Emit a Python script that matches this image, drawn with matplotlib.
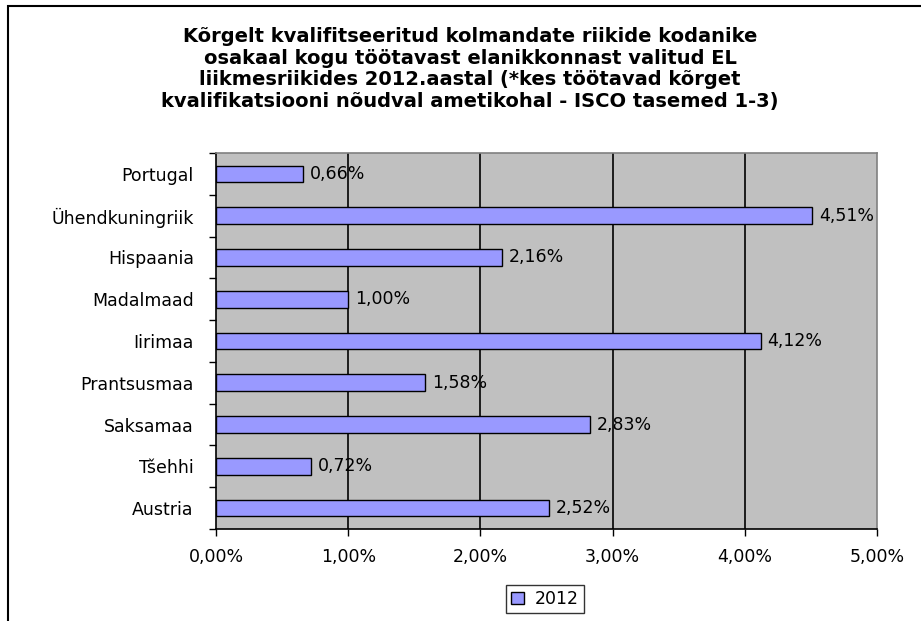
import matplotlib
matplotlib.use("Agg")
import matplotlib.pyplot as plt
from matplotlib.patches import Rectangle

# data (bottom to top, as drawn)
countries = ["Austria", "Tšehhi", "Saksamaa", "Prantsusmaa", "Iirimaa",
             "Madalmaad", "Hispaania", "Ühendkuningriik", "Portugal"]
values = [2.52, 0.72, 2.83, 1.58, 4.12, 1.00, 2.16, 4.51, 0.66]
xticks = [0, 1, 2, 3, 4, 5]
series_name = "2012"
title = ("Kõrgelt kvalifitseeritud kolmandate riikide kodanike\n"
         "osakaal kogu töötavast elanikkonnast valitud EL\n"
         "liikmesriikides 2012.aastal (*kes töötavad kõrget\n"
         "kvalifikatsiooni nõudval ametikohal - ISCO tasemed 1-3)")

plt.rcParams["font.family"] = ["DejaVu Sans"]
fs = 12.5

fig = plt.figure(figsize=(9.21, 6.21), dpi=100)
W, H = 921, 621

# outer chart border (runs off right/bottom edge)
fig.patches.append(Rectangle((8 / W, -0.05), 1.0, 1 - 6 / H + 0.05,
                             transform=fig.transFigure, fill=False,
                             edgecolor="black", linewidth=1.5))

ax = fig.add_axes([216 / W, 1 - 529 / H, (877 - 216) / W, (529 - 153) / H])
ax.set_facecolor("#C0C0C0")

ypos = range(len(countries))
ax.barh(ypos, values, height=0.4, color="#9999FF", edgecolor="black",
        linewidth=1.0, zorder=3, label=series_name)

for y, v in zip(ypos, values):
    ax.annotate(f"{v:.2f}%".replace(".", ","), (v, y), xytext=(5, 0),
                textcoords="offset points", va="center", ha="left",
                fontsize=fs, zorder=4)

ax.set_xlim(0, 5)
ax.set_ylim(-0.5, len(countries) - 0.5)
ax.set_xticks(xticks)
ax.set_xticklabels([f"{t:.2f}%".replace(".", ",") for t in xticks], fontsize=fs)
ax.set_yticks(list(ypos))
ax.set_yticklabels(countries, fontsize=fs)
ax.set_yticks([i - 0.5 for i in range(len(countries) + 1)], minor=True)
ax.tick_params(axis="y", which="major", length=0, pad=16)
ax.tick_params(axis="y", which="minor", length=5, width=1, direction="out")
ax.tick_params(axis="x", length=5, width=1, direction="out", pad=9)

for t in xticks[1:-1]:
    ax.axvline(t, color="black", linewidth=1.2, zorder=2)

for s in ("top", "right"):
    ax.spines[s].set_color("#808080")
    ax.spines[s].set_linewidth(1.2)
for s in ("left", "bottom"):
    ax.spines[s].set_color("black")
    ax.spines[s].set_linewidth(1.2)

fig.text(470 / W, 1 - 27 / H, title, ha="center", va="top",
         fontsize=14, fontweight="bold", linespacing=1.17)

leg = fig.legend(loc="center", bbox_to_anchor=(545 / W, 1 - 599 / H),
                 frameon=True, fancybox=False, fontsize=fs,
                 handlelength=0.75, handleheight=0.75, handletextpad=0.6,
                 borderpad=0.3, borderaxespad=0)
leg.get_frame().set_edgecolor("black")
leg.get_frame().set_linewidth(1.0)

fig.savefig("out.png", dpi=100)
